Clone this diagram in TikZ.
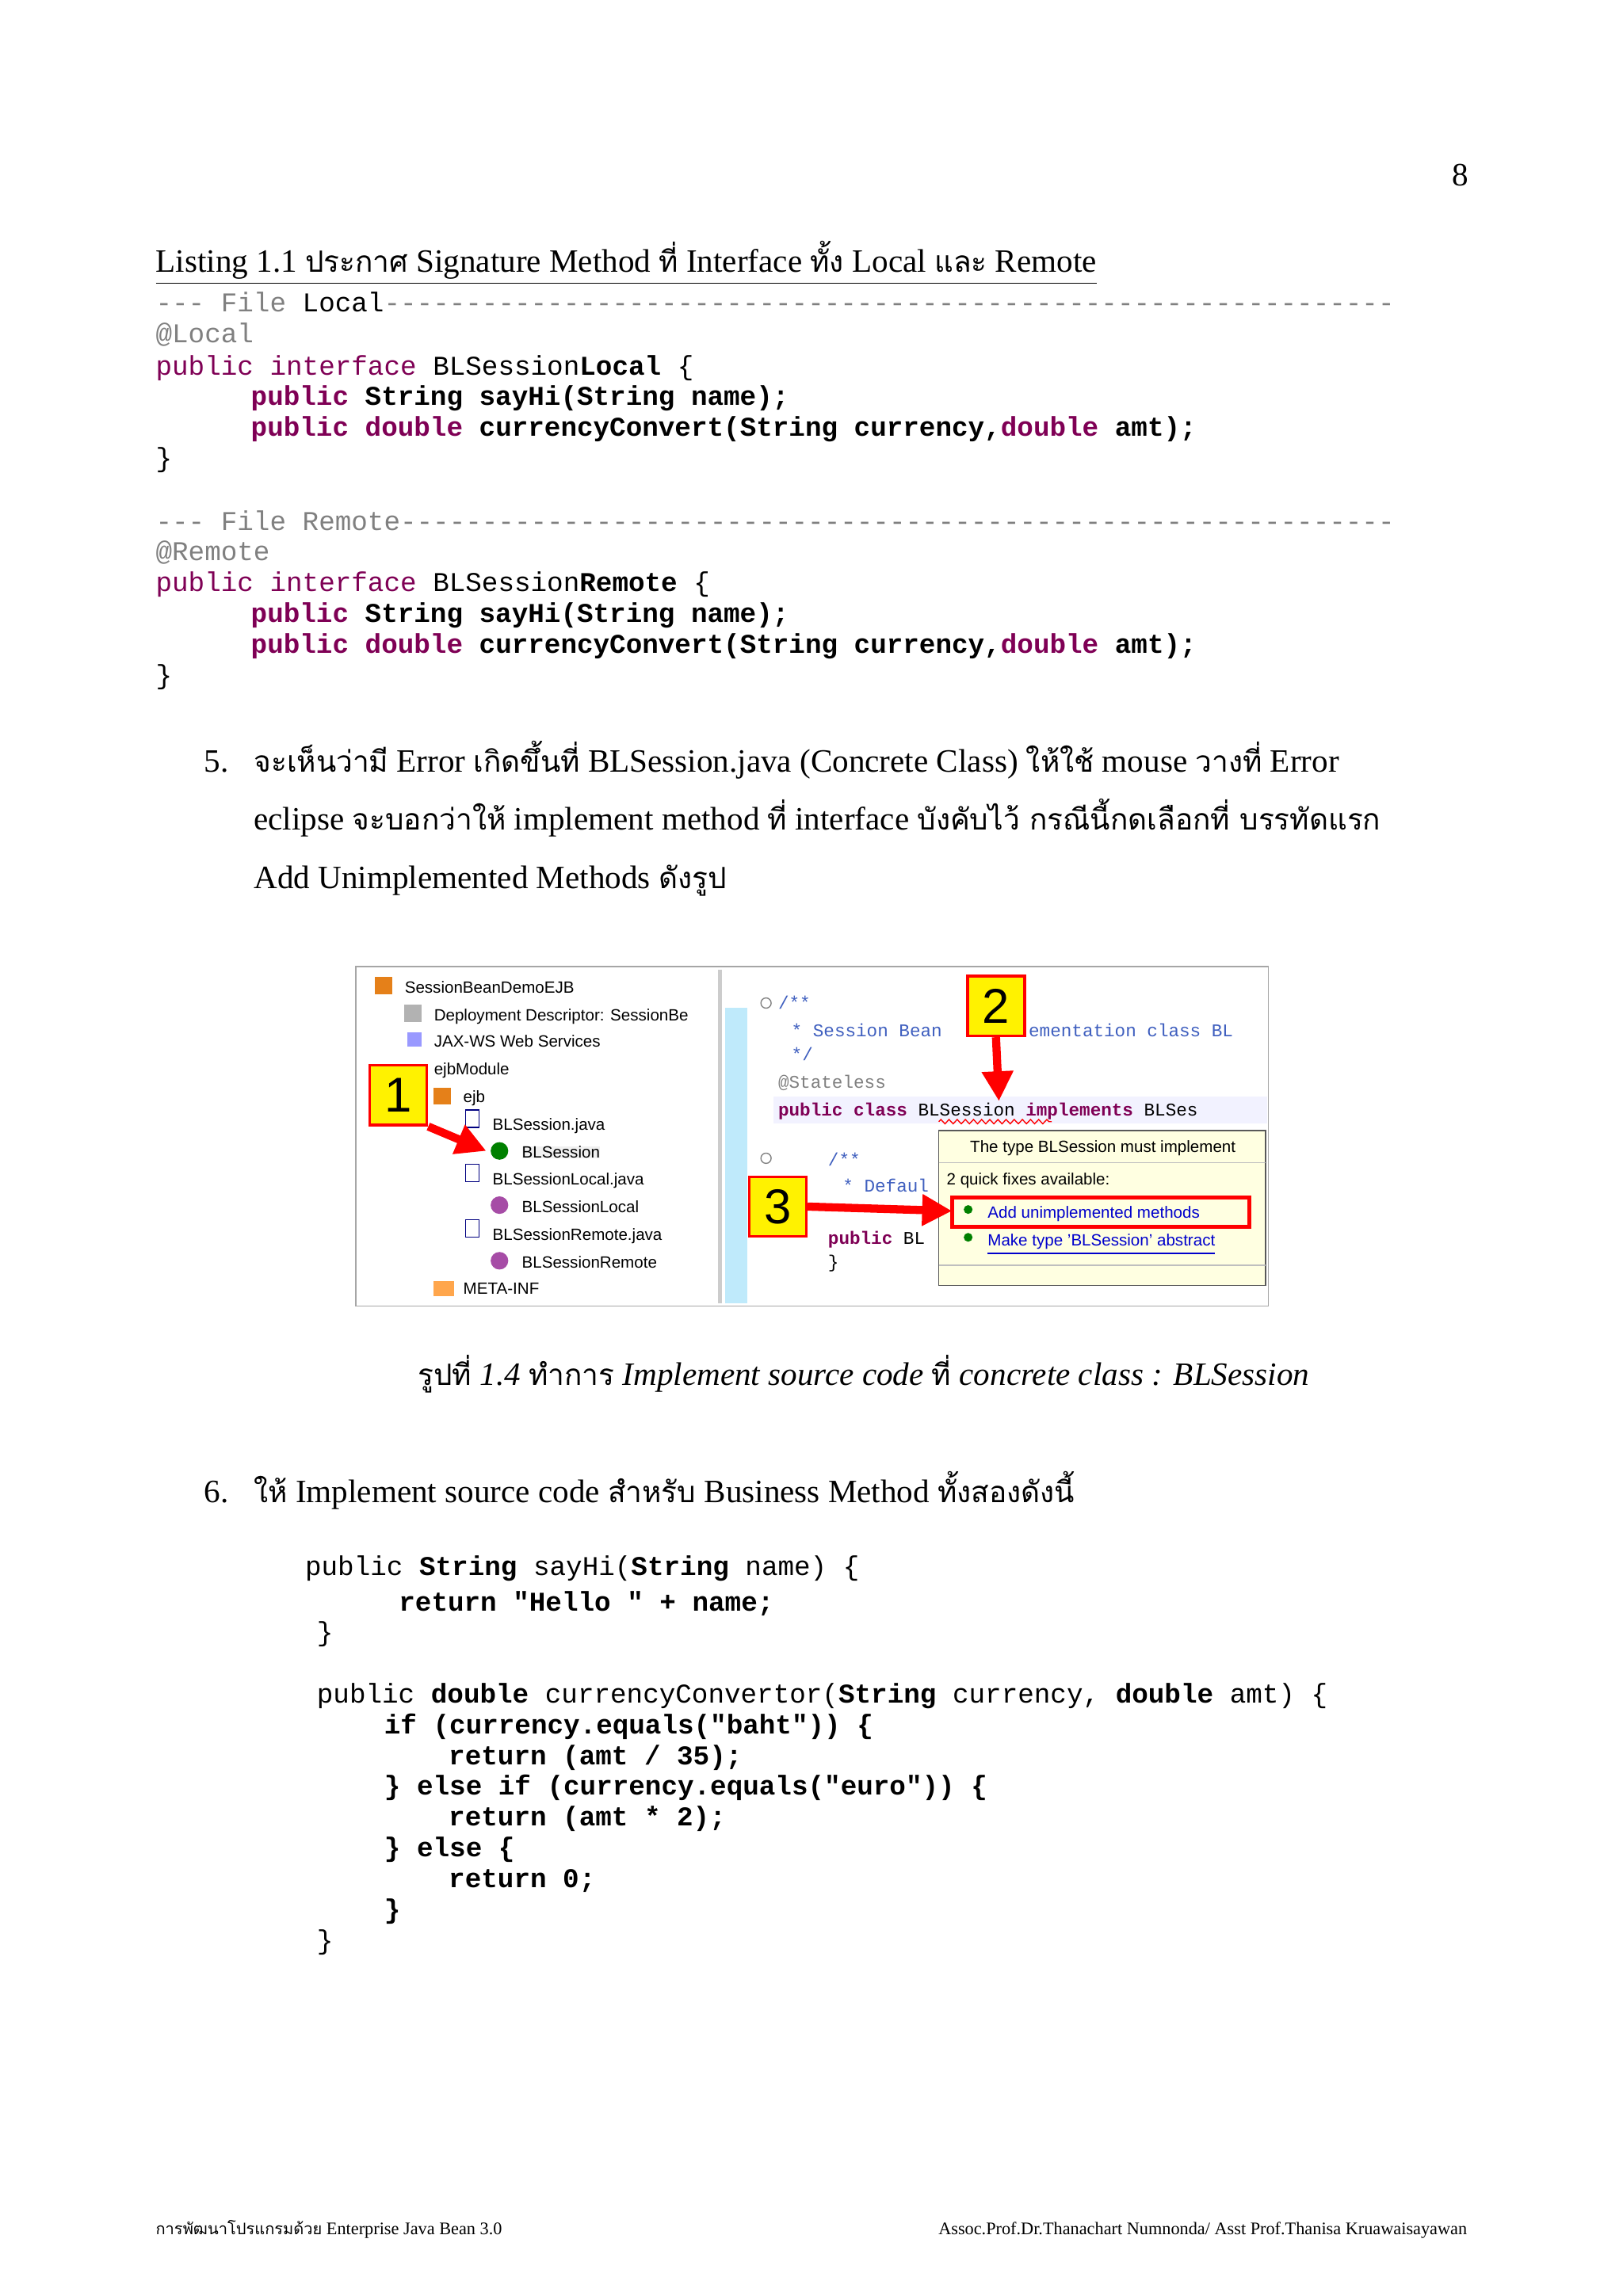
\documentclass[tikz,border=0pt]{standalone}
\usepackage{fontspec}
\setmainfont{Liberation Serif}
\setmonofont{Liberation Mono}
\setsansfont{Liberation Sans}
\newfontfamily\thai[Script=Thai,Scale=0.9]{Loma}
\usetikzlibrary{arrows.meta,positioning,decorations.pathmorphing}
\definecolor{kw}{HTML}{7F0055}
\definecolor{cm}{HTML}{3F5FBF}
\definecolor{gr}{HTML}{808080}
\definecolor{tip}{HTML}{FFFFE1}
\newcommand{\T}[1]{{\thai #1}}
\newcommand{\K}[1]{\textcolor{kw}{\textbf{#1}}}

\begin{document}
\begin{tikzpicture}[x=0.01895cm, y=-0.01895cm,
  txt/.style={anchor=base west, inner sep=0, font=\fontsize{12}{14}\selectfont},
  code/.style={anchor=base west, inner sep=0, font=\ttfamily\fontsize{10}{12}\selectfont},
  ide/.style={anchor=base west, inner sep=0, font=\sffamily\fontsize{6}{7}\selectfont},
  idecode/.style={anchor=base west, inner sep=0, font=\ttfamily\fontsize{6.6}{7}\selectfont},
  numbox/.style={draw=red, fill=yellow, line width=1pt, minimum width=21pt, minimum height=22pt, inner sep=0, font=\sffamily\fontsize{18}{20}\selectfont},
  redarrow/.style={-{Triangle[length=11pt,width=11pt]}, red, line width=3pt}
]
\useasboundingbox (0,0) rectangle (1108,1568);
\fill[white] (0,0) rectangle (1108,1568);

\node[txt] (pagenum) at (991,127) {8};

% listing heading and code
\node[txt] (head) at (106,186) {\underline{Listing 1.1 \T{ประกาศ} Signature Method \T{ที่} Interface \T{ทั้ง} Local \T{และ} Remote}};
\node[code] (l1) at (106,213) {\textcolor{gr}{--- File }Local\textcolor{gr}{--------------------------------------------------------------}};
\node[code] (l2) at (106,234) {\textcolor{gr}{@Local}};
\node[code] (l3) at (106,256) {\textcolor{kw}{public interface} BLSession\textbf{Local} \{};
\node[code] (l4) at (171,277) {\K{public} \textbf{String sayHi(String name);}};
\node[code] (l5) at (171,298) {\K{public double} \textbf{currencyConvert(String currency,}\K{double} \textbf{amt);}};
\node[code] (l6) at (106,319) {\}};
\node[code] (r1) at (106,362) {\textcolor{gr}{--- File Remote-------------------------------------------------------------}};
\node[code] (r2) at (106,383) {\textcolor{gr}{@Remote}};
\node[code] (r3) at (106,404) {\textcolor{kw}{public interface} BLSession\textbf{Remote} \{};
\node[code] (r4) at (171,425) {\K{public} \textbf{String sayHi(String name);}};
\node[code] (r5) at (171,446) {\K{public double} \textbf{currencyConvert(String currency,}\K{double} \textbf{amt);}};
\node[code] (r6) at (106,467) {\}};

% step 5
\node[txt] (s5a) at (139,527) {5.};
\node[txt] (s5b) at (173,527) {\T{จะเห็นว่ามี} Error \T{เกิดขึ้นที่} BLSession.java (Concrete Class) \T{ให้ใช้} mouse \T{วางที่} Error};
\node[txt] (s5c) at (173,567) {eclipse \T{จะบอกว่าให้} implement method \T{ที่} interface \T{บังคับไว้  กรณีนี้กดเลือกที่ บรรทัดแรก}};
\node[txt] (s5d) at (173,607) {Add Unimplemented Methods  \T{ดังรูป}};

% screenshot
\draw[gray!70] (243,660) rectangle (866,892);
\fill[gray!40] (490,662) rectangle (493,890);
\fill[cyan!25] (495,688) rectangle (510,890);
\node[ide] (t1) at (276,678) {SessionBeanDemoEJB};
\node[ide] (t2) at (296,697) {Deployment Descriptor: SessionBe};
\node[ide] (t3) at (296,715) {JAX-WS Web Services};
\node[ide] (t4) at (296,734) {ejbModule};
\node[ide] (t5) at (316,753) {ejb};
\node[ide] (t6) at (336,772) {BLSession.java};
\node[ide, fill=gray!12] (t7) at (356,791) {BLSession};
\node[ide] (t8) at (336,809) {BLSessionLocal.java};
\node[ide] (t9) at (356,828) {BLSessionLocal};
\node[ide] (t10) at (336,847) {BLSessionRemote.java};
\node[ide] (t11) at (356,866) {BLSessionRemote};
\node[ide] (t12) at (316,884) {META-INF};
\fill[orange!60!brown] (256,667) rectangle ++(12,12);
\fill[gray!60] (276,686) rectangle ++(12,12);
\fill[blue!40] (278,705) rectangle ++(10,10);
\fill[orange!60!brown] (296,743) rectangle ++(12,11);
\foreach \y in {767,804,842} \draw[blue!50!black,fill=white] (318,\y-9) rectangle ++(9,12);
\fill[green!50!black] (341,786) circle (6);
\fill[violet!70] (341,823) circle (6);
\fill[violet!70] (341,861) circle (6);
\fill[orange!70] (296,875) rectangle ++(14,10);

\node[idecode] (c1) at (531,689) {\textcolor{cm}{/**}};
\node[idecode] (c2) at (540,708) {\textcolor{cm}{* Session Bean}};
\node[idecode] (c2b) at (702,708) {\textcolor{cm}{ementation class BL}};
\node[idecode] (c3) at (540,724) {\textcolor{cm}{*/}};
\node[idecode] (c4) at (531,743) {\textcolor{gr}{@Stateless}};
\fill[blue!5] (528,749) rectangle (865,767);
\node[idecode] (c5) at (531,762) {\K{public class} BLSession \K{implements} BLSes};
\draw[red, decorate, decoration={zigzag, amplitude=0.8, segment length=3}] (641,766) -- (718,766);
\node[idecode] (c6) at (565,796) {\textcolor{cm}{/**}};
\node[idecode] (c7) at (575,814) {\textcolor{cm}{* Defaul}};
\node[idecode] (c8) at (565,850) {\K{public} BL};
\node[idecode] (c9) at (565,866) {\}};
\foreach \y in {685,791} \draw[gray] (523,\y) circle (3.5);

% quick fix popup
\draw[gray!70!black, fill=tip] (641,772) rectangle (864,878);
\draw[gray!50] (641,794) -- (864,794);
\draw[gray!50] (641,864) -- (864,864);
\node[ide] (p1) at (662,787) {The type BLSession must implement};
\node[ide] (p2) at (646,809) {2 quick fixes available:};
\node[ide] (p3) at (674,832) {\textcolor{blue!80!black}{\underline{Add unimplemented methods}}};
\node[ide] (p4) at (674,851) {\textcolor{blue!80!black}{\underline{Make type 'BLSession' abstract}}};
\draw[red, line width=1.5pt] (650,818) rectangle (853,838);
\foreach \y in {829,848} \fill[green!50!black] (661,\y-3) circle (3);

% numbered markers
\node[numbox] (n1) at (272,748) {1};
\node[numbox] (n2) at (680,687) {2};
\node[numbox] (n3) at (531,824) {3};
\coordinate (a1) at (332,786);
\coordinate (a2) at (682,752);
\coordinate (a3) at (650,827);
\draw[redarrow] (n1.south east) -- (a1);
\draw[redarrow] (n2.south) -- (a2);
\draw[redarrow] (n3.east) -- (a3);

% caption
\node[txt] (cap) at (285,946) {\T{รูปที่} \textit{1.4} \T{ทำการ} \textit{Implement source code} \T{ที่} \textit{concrete class : BLSession}};

% step 6
\node[txt] (s6a) at (139,1026) {6.};
\node[txt] (s6b) at (173,1026) {\T{ให้} Implement source code \T{สำหรับ} Business Method \T{ทั้งสองดังนี้}};
\node[code] (m1) at (208,1076) {public \textbf{String} sayHi(\textbf{String} name) \{};
\node[code] (m2) at (272,1100) {\textbf{return "Hello " + name;}};
\node[code] (m3) at (216,1121) {\}};
\node[code] (m4) at (216,1163) {public \textbf{double} currencyConvertor(\textbf{String} currency, \textbf{double} amt) \{};
\node[code] (m5) at (262,1184) {\textbf{if (currency.equals("baht")) \{}};
\node[code] (m6) at (306,1205) {\textbf{return (amt / 35);}};
\node[code] (m7) at (262,1226) {\textbf{\} else if (currency.equals("euro")) \{}};
\node[code] (m8) at (306,1247) {\textbf{return (amt * 2);}};
\node[code] (m9) at (262,1268) {\textbf{\} else \{}};
\node[code] (m10) at (306,1289) {\textbf{return 0;}};
\node[code] (m11) at (262,1310) {\textbf{\}}};
\node[code] (m12) at (216,1331) {\}};

% footer
\node[anchor=base west, inner sep=0, font=\fontsize{6.5}{8}\selectfont] (f1) at (106,1526) {\T{การพัฒนาโปรแกรมด้วย} Enterprise Java Bean 3.0};
\node[anchor=base east, inner sep=0, font=\fontsize{6.5}{8}\selectfont] (f2) at (1002,1526) {Assoc.Prof.Dr.Thanachart  Numnonda/ Asst Prof.Thanisa Kruawaisayawan};
\end{tikzpicture}
\end{document}
